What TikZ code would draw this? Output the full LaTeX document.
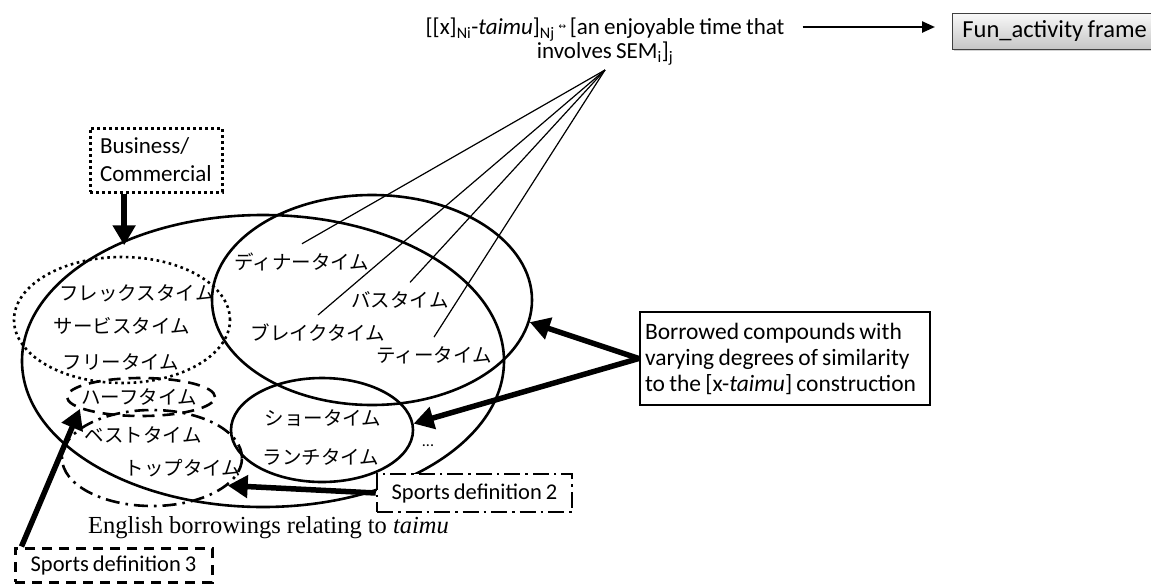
\documentclass[tikz,border=0pt]{standalone}
\usepackage{fontspec}
\setmainfont{Carlito}[WordSpace=0.8]
\newfontfamily\jpfont{Noto Sans CJK JP}
\newfontfamily\serfont{Liberation Serif}
\newfontfamily\symfont{DejaVu Sans}
\usetikzlibrary{arrows.meta,shapes.geometric,shadows}
\begin{document}
\begin{tikzpicture}[x=1pt,y=-1pt,
  jp/.style={font=\jpfont\fontsize{19.5}{22}\selectfont, inner sep=1pt},
  ell/.style={draw, ellipse, line width=2.6pt, inner sep=0pt},
  bigarrow/.style={line width=5.5pt, -{Triangle[length=20pt,width=22pt]}},
  fanline/.style={line width=1.2pt},
  funarrow/.style={line width=2.4pt, -{Triangle[length=13pt,width=11pt]}},
]
\useasboundingbox (0,0) rectangle (1151,584);

% ---- ellipses
\node[ell, minimum width=482pt, minimum height=292pt] (outer) at (263,361) {};
\node[ell, minimum width=320pt, minimum height=210pt] (taimu) at (372,300) {};
\node[ell, minimum width=182pt, minimum height=104pt] (small) at (322,430) {};
\node[ell, minimum width=216pt, minimum height=126pt, dash pattern=on 2.6pt off 3.6pt] (bizell) at (122,320) {};
\node[ell, minimum width=148pt, minimum height=38pt, dash pattern=on 12pt off 8pt] (half) at (141,397) {};
\node[ell, minimum width=180pt, minimum height=96pt, dash pattern=on 14pt off 6pt on 2.6pt off 6pt] (dd) at (152,458) {};

% ---- Japanese labels
\node[jp] (din)   at (302,262) {ディナータイム};
\node[jp] (bus)   at (400,300) {バスタイム};
\node[jp] (brk)   at (318,333) {ブレイクタイム};
\node[jp] (tea)   at (434,355) {ティータイム};
\node[jp] (flex)  at (137,293) {フレックスタイム};
\node[jp] (serv)  at (122,326) {サービスタイム};
\node[jp] (free)  at (121,362) {フリータイム};
\node[jp] (halfl) at (139,397) {ハーフタイム};
\node[jp] (best)  at (143,435) {ベストタイム};
\node[jp] (top)   at (183,468) {トップタイム};
\node[jp] (show)  at (323,418) {ショータイム};
\node[jp] (lunch) at (321,457) {ランチタイム};
\node[font=\fontsize{16}{16}\selectfont, anchor=base, inner sep=0pt] (dots) at (428,446) {...};

% ---- formula (two lines, one node)
\node[font=\fontsize{23}{21}\selectfont, align=center, anchor=north, inner sep=0pt] (formula) at (605,18)
  {[[x]\textsubscript{Ni}-\textit{taimu}]\textsubscript{Nj}\,\raisebox{5pt}{\symfont\fontsize{9}{9}\selectfont ↔}\,[an enjoyable time that\\
   involves SEM\textsubscript{i}]\textsubscript{j}};
\coordinate (fe) at ([yshift=-9pt]formula.north east);

\coordinate (apex) at (605,70);
\draw[fanline] (apex) -- ([yshift=8pt]din.north);
\draw[fanline] (apex) -- ([yshift=8pt]brk.north);
\draw[fanline] (apex) -- ([yshift=8pt,xshift=10pt]bus.north);
\draw[fanline] (apex) -- ([yshift=8pt]tea.north);

% ---- Fun_activity frame
\node[draw=black!75, line width=0.8pt, top color=gray!5, bottom color=gray!45,
      drop shadow={opacity=0.35, shadow xshift=2pt, shadow yshift=-2pt},
      anchor=west, minimum height=36pt, text width=190pt, inner xsep=10pt, align=flush left,
      font=\fontsize{24.5}{26}\selectfont] (fun) at (952,31) {Fun\_activity frame};
\draw[funarrow, shorten <=18pt, shorten >=17pt] (fe) -- (fe -| fun.west);

% ---- Business box
\node[draw, line width=3pt, dash pattern=on 3pt off 3pt, minimum width=132pt, minimum height=64pt,
      text width=112pt, inner xsep=10pt, align=flush left, font=\fontsize{23}{28}\selectfont] (biz) at (156,160)
      {Business/\\Commercial};
\draw[bigarrow, shorten >=-5pt] (biz.south -| outer.139) -- (outer.139);

% ---- Borrowed box
\node[draw, line width=2.5pt, minimum width=290pt, minimum height=93pt,
      text width=280pt, inner xsep=5pt, align=flush left, font=\fontsize{23.5}{26}\selectfont] (borrow) at (785,358.5)
      {Borrowed compounds with\\varying degrees of similarity\\to the [x-\textit{taimu}] construction};
\draw[bigarrow] (borrow.west) -- (taimu.-8);
\draw[bigarrow] (borrow.west) -- (small.4);

% ---- Sports definition 2
\node[draw, line width=2.5pt, dash pattern=on 16pt off 5pt on 2.5pt off 5pt, minimum width=195pt, minimum height=38pt,
      font=\fontsize{22.5}{24}\selectfont, fill=white] (sd2) at (474.5,493) {Sports definition 2};
\draw[bigarrow] (sd2.west) -- (dd.-20);

% ---- Sports definition 3
\node[draw, line width=3pt, dash pattern=on 10pt off 7pt, minimum width=197pt, minimum height=34pt,
      font=\fontsize{22.5}{24}\selectfont] (sd3) at (113.5,565) {Sports definition 3};
\draw[bigarrow] ([xshift=8pt]sd3.north west) -- (half.191);

% ---- caption
\node[anchor=base west, inner sep=0pt, font=\serfont\fontsize{24.5}{26}\selectfont] (eng) at (88,533)
  {English borrowings relating to \textit{taimu}};
\end{tikzpicture}
\end{document}
